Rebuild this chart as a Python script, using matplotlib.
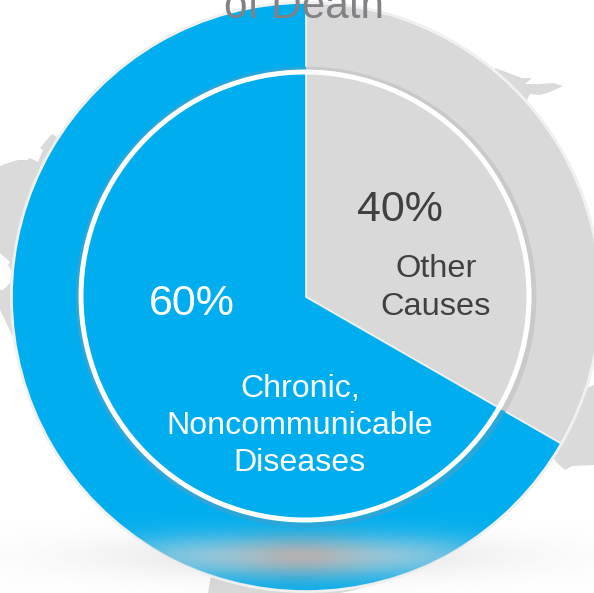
import matplotlib
matplotlib.use("Agg")
import matplotlib.pyplot as plt
from matplotlib.patches import Circle, Polygon
import numpy as np

plt.rcParams['font.family'] = ['Liberation Sans', 'DejaVu Sans']

# The drawn slices are narrower than the printed percentages say
slice_names = ["Other Causes", "Chronic, Noncommunicable Diseases"]
slice_shares = [33.3, 66.7]
slice_colors = ["#D9D9D9", "#00AEEF"]
percent_labels = ["40%", "60%"]
category_labels = ["Other\nCauses", "Chronic,\nNoncommunicable\nDiseases"]
title_text = "of Death"

W, H = 594, 593
CX, CY = 306, H - 297
R_OUTER = 294
R_RING = 224

fig = plt.figure(figsize=(W / 100, H / 100), dpi=100)
ax = fig.add_axes([0, 0, 1, 1])


def px(x, y):
    # reference pixels to axis coordinates
    return (x, H - y)


# Faded world map behind the circle
land = [
    [(0, 166), (8, 163), (18, 160), (27, 160), (30, 158), (38, 162), (43, 150), (40, 148), (52, 134),
     (80, 150), (60, 260), (40, 345), (13, 337), (5, 320), (0, 310), (0, 290), (3, 290), (10, 283),
     (14, 275), (8, 265), (10, 262), (0, 253)],
    [(495, 68), (522, 78), (532, 78), (525, 84), (540, 84), (553, 83), (563, 86), (550, 92), (540, 95),
     (530, 94), (527, 100), (518, 103), (500, 112)],
    [(560, 400), (594, 385), (594, 465), (572, 466), (565, 470), (556, 462), (552, 455)],
    [(212, 570), (375, 570), (372, 584), (355, 590), (340, 593), (208, 593)],
]
for shape in land:
    ax.add_patch(Polygon([px(*p) for p in shape], closed=True, fc="#DADADA", ec="none", zorder=1))

# Soft shadow under the disc
yy, xx = np.mgrid[0:H, 0:W]
blob = np.exp(-((xx - 300) / 210.0) ** 2 - ((yy - 556) / 22.0) ** 2)
shadow = np.zeros((H, W, 4))
shadow[..., :3] = 0.6
shadow[..., 3] = 0.25 * blob
ax.imshow(shadow, extent=(0, W, 0, H), origin="upper", zorder=2, interpolation="bilinear")

# Outer pale edge, then the pie itself
ax.add_patch(Circle((CX, CY), R_OUTER + 2, fc="#EFEFEF", ec="none", zorder=3))
wedges, _ = ax.pie(slice_shares, colors=slice_colors, startangle=90, counterclock=False,
                   center=(CX, CY), radius=R_OUTER, frame=False,
                   wedgeprops=dict(edgecolor="#F2F2F2", linewidth=1.2, zorder=4))
for w in wedges:
    w.set_zorder(4)

# Glow on the lower part of the blue ring: pale blue, going grey in the middle
glow = np.zeros((H, W, 4))
tint = np.exp(-((xx - 300) / 60.0) ** 2)[..., None]
glow[..., :3] = (1 - tint) * np.array([0.58, 0.79, 0.87]) + tint * np.array([0.71, 0.70, 0.70])
glow[..., 3] = np.exp(-(np.abs(yy - 556) / 22.0) ** 2) * np.exp(-((xx - 300) / 190.0) ** 4)
im = ax.imshow(glow, extent=(0, W, 0, H), origin="upper", zorder=5, interpolation="bilinear")
im.set_clip_path(wedges[1])

# Ring with a darker band just outside it, one tone per slice
for w, tone in zip(wedges, ["#C9C9C9", "#2CA6D8"]):
    shade = Circle((CX, CY), R_RING + 4, fc="none", ec=tone, lw=3.4, zorder=6)
    ax.add_patch(shade)
    shade.set_clip_path(w)
ax.add_patch(Circle((CX - 1, CY + 1), R_RING, fc="none", ec="white", lw=3.6, zorder=7))

ax.text(*px(304, 18), title_text, fontsize=30.5, color="#808285", ha="center", va="baseline", zorder=9)
ax.text(*px(400, 210), percent_labels[0], fontsize=31, color="#404040", ha="center", va="center", zorder=9)
ax.text(*px(192, 304), percent_labels[1], fontsize=31, color="white", ha="center", va="center", zorder=9)
ax.text(*px(436, 288), category_labels[0], fontsize=23.4, color="#404040", ha="center", va="center",
        linespacing=1.32, zorder=9)
ax.text(*px(300, 426), category_labels[1], fontsize=23.1, color="white", ha="center", va="center",
        linespacing=1.32, zorder=9)

ax.set_xlim(0, W)
ax.set_ylim(0, H)
ax.set_aspect("auto")
ax.axis("off")

fig.savefig("out.png", dpi=100)
